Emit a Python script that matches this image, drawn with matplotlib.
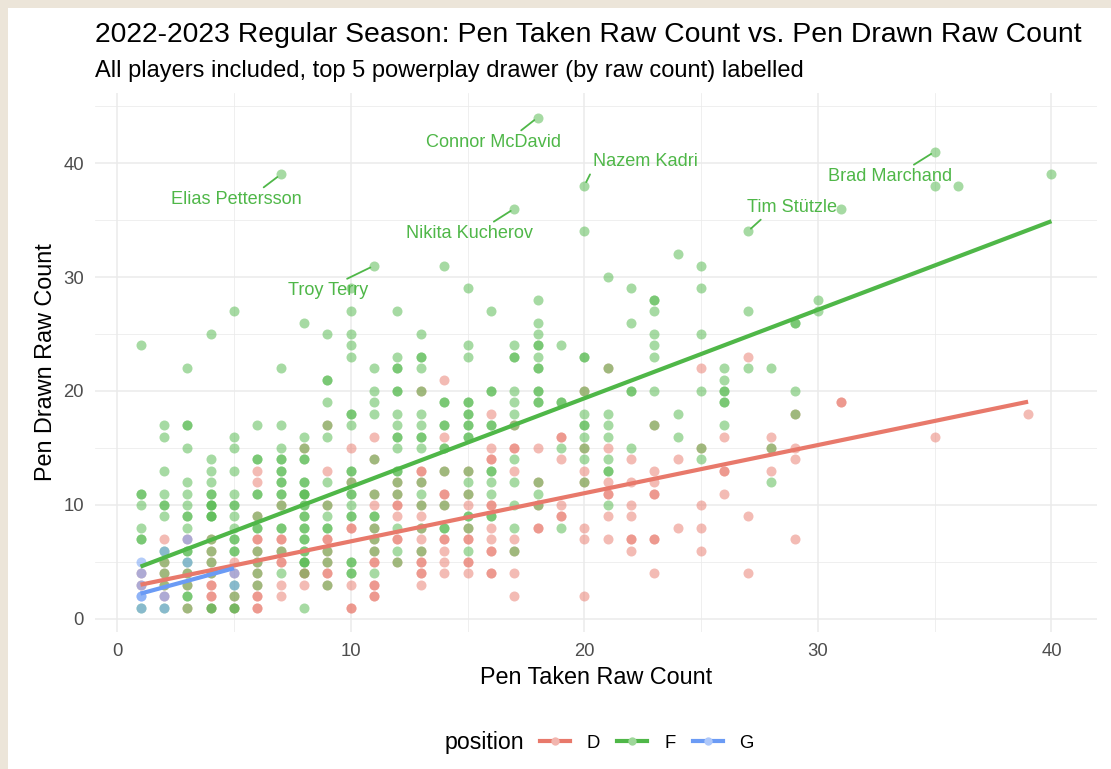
import matplotlib
matplotlib.use("Agg")
import matplotlib.pyplot as plt
from matplotlib.lines import Line2D
from matplotlib.patches import Rectangle
from matplotlib.colors import to_rgb

# ---------------------------------------------------------------------------
# Data: penalties drawn per player, grouped by penalties taken (raw counts)
# ---------------------------------------------------------------------------
positions = ["D", "F", "G"]

defense_drawn = {
    1: [4, 3], 2: [7, 5, 4, 3, 2], 3: [7, 4, 3, 1],
    4: [7, 6, 5, 4, 3, 3, 2, 2, 1], 5: [5, 4, 2, 1],
    6: [13, 12, 9, 7, 7, 6, 5, 4, 3, 2, 2, 1, 1],
    7: [10, 7, 7, 6, 5, 5, 3, 2], 8: [15, 4, 4, 3],
    9: [17, 13, 10, 7, 7, 6, 5, 4, 4, 3], 10: [15, 12, 8, 8, 3, 1, 1],
    11: [16, 14, 11, 10, 8, 7, 6, 5, 5, 3, 3, 2, 2],
    12: [12, 11, 10, 10, 9, 7, 7, 5],
    13: [20, 13, 13, 12, 10, 9, 8, 7, 6, 5, 5, 4, 4, 3],
    14: [21, 16, 13, 11, 11, 10, 7, 7, 6, 5, 4],
    15: [13, 11, 10, 8, 7, 7, 5, 5, 4],
    16: [18, 15, 14, 14, 10, 10, 8, 7, 6, 6, 4, 4],
    17: [17, 15, 15, 13, 7, 6, 4, 2], 18: [15, 12, 10, 8, 8],
    19: [16, 16, 14, 10, 9, 9], 20: [20, 15, 13, 12, 8, 7, 2],
    21: [22, 15, 12, 11, 11, 9, 7], 22: [14, 12, 10, 9, 7, 7, 6],
    23: [17, 13, 12, 11, 11, 7, 7, 4], 24: [14, 8],
    25: [22, 15, 10, 8, 6], 26: [16, 13, 13, 11], 27: [23, 9, 4],
    28: [16, 15, 13], 29: [18, 15, 14, 7], 31: [19, 19], 35: [16], 39: [18],
}

forward_drawn = {
    1: [24, 11, 11, 10, 8, 7, 7, 1],
    2: [17, 16, 13, 11, 10, 10, 9, 6, 5, 4, 3, 1],
    3: [22, 17, 17, 15, 12, 11, 10, 9, 9, 8, 6, 6, 5, 4, 3, 2, 2, 1],
    4: [25, 14, 13, 12, 11, 11, 10, 10, 10, 9, 9, 9, 7, 6, 5, 4, 1, 1],
    5: [27, 16, 15, 13, 11, 10, 10, 9, 8, 7, 7, 6, 6, 3, 2, 1, 1],
    6: [17, 14, 14, 11, 11, 9, 8, 8, 6, 5, 4, 3],
    7: [39, 22, 17, 15, 14, 14, 13, 13, 12, 12, 11, 11, 10, 8, 8, 6, 4],
    8: [26, 16, 15, 14, 14, 12, 12, 11, 11, 11, 10, 10, 9, 9, 8, 8, 7, 7,
        6, 6, 5, 5, 5, 4, 1],
    9: [25, 21, 21, 19, 17, 16, 12, 10, 9, 8, 8, 6, 5, 3],
    10: [29, 27, 25, 24, 23, 18, 18, 17, 13, 13, 12, 11, 11, 10, 9, 9, 5,
         5, 4, 4],
    11: [31, 22, 20, 19, 18, 14, 11, 9, 9, 8, 7, 6, 4],
    12: [27, 23, 22, 22, 20, 20, 18, 17, 16, 16, 15, 13, 13, 12, 11, 8, 6, 5],
    13: [25, 23, 23, 22, 20, 18, 17, 16, 16, 15, 12, 11, 10, 8, 6],
    14: [31, 19, 19, 17, 17, 15, 15, 13, 10, 8, 8],
    15: [29, 24, 23, 19, 19, 18, 18, 17, 17, 16, 16, 13, 12, 11, 9, 9, 8, 6],
    16: [27, 20, 20, 17, 17, 13, 13, 12, 11, 9, 9],
    17: [36, 24, 23, 23, 20, 19, 18, 17, 14, 12, 10, 8, 6],
    18: [44, 28, 26, 25, 24, 24, 23, 22, 22, 20, 20, 19, 19, 12, 11, 10],
    19: [24, 19, 19, 15, 8],
    20: [38, 34, 23, 23, 20, 18, 17, 17, 16, 15, 14, 12],
    21: [30, 22, 18, 17, 16, 14, 13, 13, 10],
    22: [29, 26, 20, 20, 15],
    23: [28, 28, 27, 25, 24, 23, 20, 17],
    24: [32, 18, 16],
    25: [31, 29, 25, 20, 15, 14],
    26: [22, 21, 20, 20, 19, 19, 17],
    27: [34, 27, 22], 28: [22, 15, 12], 29: [26, 26, 20, 18],
    30: [28, 27], 31: [36], 35: [41, 38], 36: [38], 40: [39],
}

goalie_drawn = {1: [5, 4, 3, 2, 2, 1], 2: [6, 2, 1], 3: [7, 5], 5: [4, 3]}

# Linear trend per position: taken range and fitted drawn values at its ends
trend_taken_start = [1, 1, 1]
trend_taken_end = [39, 40, 5]
trend_drawn_start = [3.0, 4.59, 2.22]
trend_drawn_end = [19.06, 34.9, 4.45]

# Labelled players
label_names = ["Connor McDavid", "Nazem Kadri", "Elias Pettersson",
               "Brad Marchand", "Tim Stützle", "Nikita Kucherov", "Troy Terry"]
label_taken = [18, 20, 7, 35, 27, 17, 11]
label_drawn = [44, 38, 39, 41, 34, 36, 31]

x_ticks = [0, 10, 20, 30, 40]
y_ticks = [0, 10, 20, 30, 40]

title = "2022-2023 Regular Season: Pen Taken Raw Count vs. Pen Drawn Raw Count"
subtitle = "All players included, top 5 powerplay drawer (by raw count) labelled"

# ---------------------------------------------------------------------------
# Styling
# ---------------------------------------------------------------------------
colors = {"D": "#E8796B", "F": "#4FB748", "G": "#6B9BF5"}
FONT = "Liberation Sans"
plt.rcParams["font.family"] = [FONT, "DejaVu Sans"]

W, H = 1111, 769
fig = plt.figure(figsize=(W / 100, H / 100), dpi=100)
fig.patch.set_facecolor("#ECE5D9")
fig.patches.append(Rectangle((8 / W, 0), 1 - 8 / W, 1 - 8 / H,
                             transform=fig.transFigure, facecolor="white",
                             edgecolor="none", zorder=-10))

left, right, top, bottom = 95, 1097, 93, 632
ax = fig.add_axes([left / W, 1 - bottom / H, (right - left) / W,
                   (bottom - top) / H])
ax.set_zorder(1)
ax.set_facecolor("white")
for s in ax.spines.values():
    s.set_visible(False)


def flatten(groups):
    xs, ys = [], []
    for taken, drawn in groups.items():
        for d in drawn:
            xs.append(taken)
            ys.append(d)
    return xs, ys


series = {"D": flatten(defense_drawn), "F": flatten(forward_drawn),
          "G": flatten(goalie_drawn)}

for pos in positions:
    xs, ys = series[pos]
    ax.scatter(xs, ys, s=52, color=colors[pos], alpha=0.5, linewidths=0,
               zorder=3)

for i, pos in enumerate(positions):
    ax.plot([trend_taken_start[i], trend_taken_end[i]],
            [trend_drawn_start[i], trend_drawn_end[i]],
            color=colors[pos], lw=3, solid_capstyle="butt", zorder=4)

# Player labels with leader segments (offset in pixels, segment anchor on box)
label_offsets = [(-44, 25), (61, -24), (-44, 25), (-45, 25), (44, -24),
                 (-45, 25), (-46, 25)]
label_anchor = [(0.67, 1.0), (0.0, 0.1), (0.67, 1.0), (0.65, 1.0),
                (0.2, 0.0), (0.65, 1.0), (0.65, 1.0)]
for name, tx, dy, (ox, oy), rel in zip(label_names, label_taken, label_drawn,
                                        label_offsets, label_anchor):
    ax.annotate(name, xy=(tx, dy), xytext=(ox, -oy), textcoords="offset pixels",
                ha="center", va="center", fontsize=13.1, color=colors["F"],
                zorder=5,
                arrowprops=dict(arrowstyle="-", color=colors["F"], lw=1.3,
                                shrinkA=1, shrinkB=3, relpos=rel))

# Scales and grid
ax.set_xlim(-0.95, 41.95)
ax.set_ylim(-1.15, 46.15)
ax.set_xticks(x_ticks)
ax.set_yticks(y_ticks)
ax.set_xticks([5, 15, 25, 35], minor=True)
ax.set_yticks([5, 15, 25, 35, 45], minor=True)
ax.grid(which="major", color="#EBEBEB", lw=1.1, zorder=0)
ax.grid(which="minor", color="#EBEBEB", lw=0.55, zorder=0)
ax.set_axisbelow(True)
ax.tick_params(which="both", length=0, pad=7.9, labelsize=13.3,
               labelcolor="#4D4D4D")
ax.tick_params(which="minor", labelbottom=False, labelleft=False)
for lab in ax.get_xticklabels() + ax.get_yticklabels():
    lab.set_fontfamily(FONT)

# Titles
fig.text(95 / W, 1 - 42 / H, title, fontsize=20.4, ha="left", va="baseline",
         color="black")
fig.text(95 / W, 1 - 77 / H, subtitle, fontsize=17, ha="left", va="baseline",
         color="black")
fig.text(596 / W, 1 - 684 / H, "Pen Taken Raw Count", fontsize=16.8,
         ha="center", va="baseline")
fig.text(45.5 / W, 1 - 362 / H, "Pen Drawn Raw Count", fontsize=16.8,
         ha="center", va="center", rotation=90)

# Legend
def tint(c, f=0.45):
    r, g, b = to_rgb(c)
    return (r + (1 - r) * f, g + (1 - g) * f, b + (1 - b) * f)


fig.text(445 / W, 1 - 743 / H, "position", fontsize=16.7, ha="left",
         va="center")
handles = [Line2D([0], [0], color=colors[p], lw=3, marker="o", ms=6,
                  markerfacecolor=tint(colors[p]), markeredgewidth=0)
           for p in positions]
fig.legend(handles, positions, ncol=3, loc="center left",
           bbox_to_anchor=(540 / W, 1 - 743 / H), frameon=False,
           fontsize=13.3, handlelength=1.62, handletextpad=0.9,
           columnspacing=0.95, borderpad=0, borderaxespad=0)

fig.savefig("out.png", dpi=100, facecolor=fig.get_facecolor())
